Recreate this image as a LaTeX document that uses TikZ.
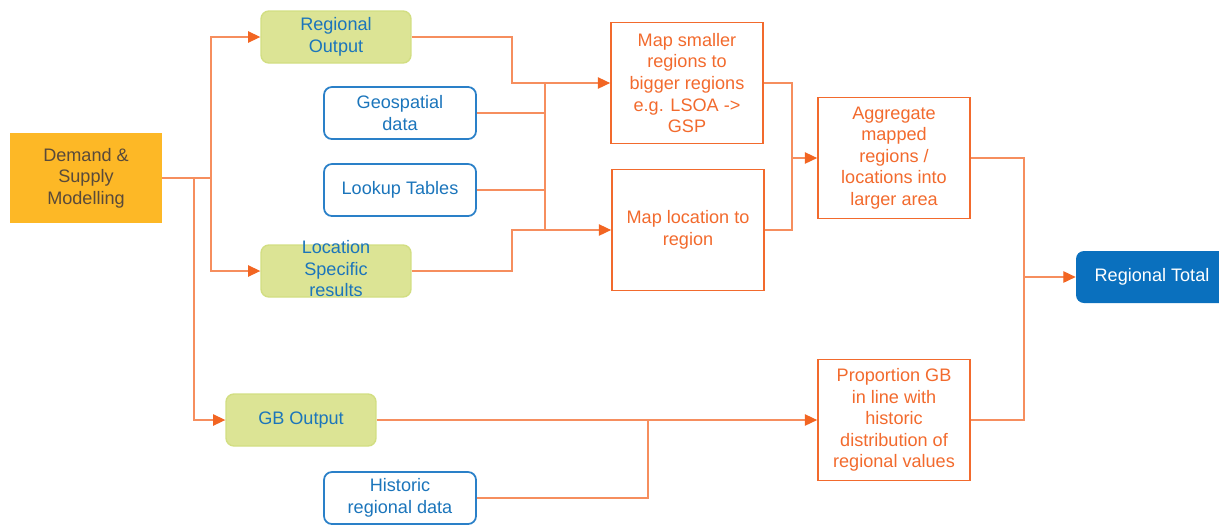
\documentclass[tikz,border=0pt]{standalone}
\usepackage{fontspec}
\setmainfont{Liberation Sans}
\usetikzlibrary{arrows.meta}
\definecolor{gold}{HTML}{FDB826}
\definecolor{darktext}{HTML}{594A3A}
\definecolor{limefill}{HTML}{DCE495}
\definecolor{limeedge}{HTML}{D2DE82}
\definecolor{textblue}{HTML}{1B75BB}
\definecolor{edgeblue}{HTML}{2A80C8}
\definecolor{totalblue}{HTML}{0A70BE}
\definecolor{stepedge}{HTML}{F26A2D}
\definecolor{linkline}{HTML}{F68E5E}
\definecolor{tipcol}{HTML}{F26522}
\tikzset{
  box/.style={minimum width=3.04cm, minimum height=1.04cm, inner sep=0pt, align=center, font=\fontsize{10.3}{12.3}\selectfont},
  greenbox/.style={box, minimum width=3cm, rounded corners=4.5pt, fill=limefill, draw=limeedge, line width=0.8pt, text=textblue},
  databox/.style={box, rounded corners=4.5pt, draw=edgeblue, line width=1pt, text=textblue},
  stepbox/.style={box, minimum height=2.42cm, draw=stepedge, line width=1pt, text=stepedge},
  link/.style={draw=linkline, line width=0.7pt},
  arr/.style={link, -{Triangle[length=7pt,width=6.5pt,color=tipcol]}}
}

\begin{document}
\begin{tikzpicture}[x=0.02cm, y=-0.02cm]
		%%%%% START %%%%%
		\useasboundingbox (0,0) rectangle (1219,525);
		
		\node[box, minimum height=1.8cm, fill=gold, text=darktext] (demand) at (86,178) {Demand \&\\Supply\\Modelling};
		
		\node[greenbox] (regout) at (336,37) {Regional\\Output};
		\node[greenbox] (locspec) at (336,271) {\smash{\raisebox{-2.5pt}{\begin{tabular}{@{}c@{}}Location\\Specific\\results\end{tabular}}}};
		\node[greenbox] (gbout) at (301,420) {GB Output};
		
		\node[databox] (geo) at (400,113) {Geospatial\\data};
		\node[databox] (lookup) at (400,190) {Lookup Tables};
		\node[databox] (hist) at (400,498) {Historic\\regional data};
		
		\node[stepbox] (mapsmall) at (687,83) {Map smaller\\regions to\\bigger regions\\e.g. LSOA ->\\GSP};
		\node[stepbox] (maploc) at (688,230) {Map location to\\region};
		\node[stepbox] (agg) at (894,158) {Aggregate\\mapped\\regions /\\locations into\\larger area};
		\node[stepbox] (prop) at (894,420) {Proportion GB\\in line with\\historic\\distribution of\\regional values};
		
		\node[box, rounded corners=4.5pt, fill=totalblue, text=white] (total) at (1152,277) {Regional Total};
		
		\coordinate (busup) at (545,83);
		\coordinate (buslow) at (545,230);
		\coordinate (busagg) at (792,158);
		\coordinate (bustot) at (1024,277);
		\coordinate (bushist) at (648,420);
		
		\draw[arr] (demand.east) -| (211,37) -- (regout.west);
		\draw[arr] (demand.east) -| (211,271) -- (locspec.west);
		\draw[arr] (demand.east) -| (194,420) -- (gbout.west);
		
		\draw[arr] (regout.east) -| (512,83) -- (mapsmall.west);
		\draw[arr] (locspec.east) -| (512,230) -- (maploc.west);
		\draw[link] (geo.east) -- (geo.east -| busup);
		\draw[link] (lookup.east) -- (lookup.east -| busup);
		\draw[link] (busup) -- (buslow);
		
		\draw[arr] (mapsmall.east) -| (busagg) -- (agg.west);
		\draw[link] (maploc.east) -| (busagg);
		
		\draw[arr] (agg.east) -| (bustot) -- (total.west);
		\draw[link] (prop.east) -| (bustot);
		
		\draw[arr] (gbout.east) -- (prop.west);
		\draw[link] (hist.east) -| (bushist);
		%%%%% END %%%%%
\end{tikzpicture}
\end{document}
